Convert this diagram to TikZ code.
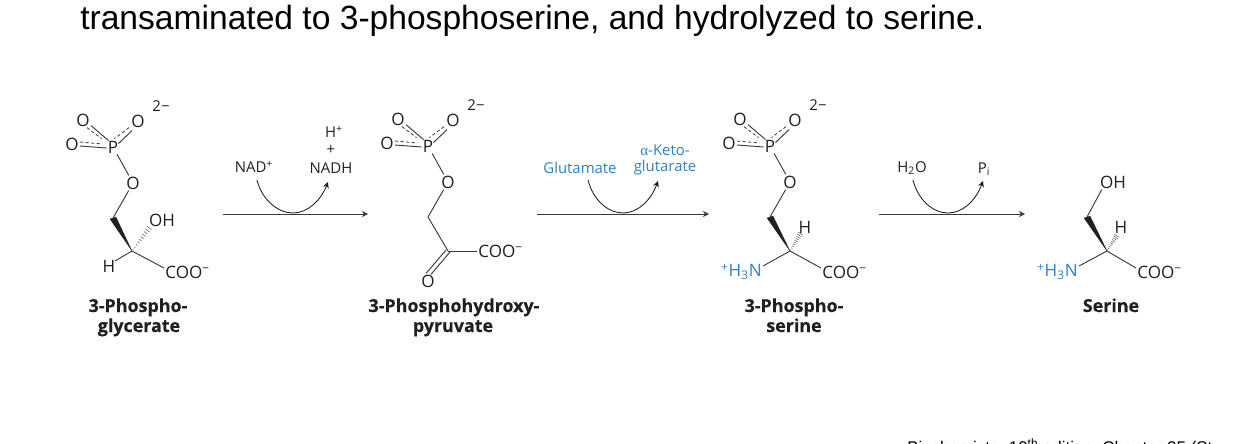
\documentclass[tikz,border=0pt]{standalone}
\usepackage{fontspec}
\setmainfont{Open Sans}[BoldFeatures={FakeBold=0.4}]
\newfontfamily\titlefont{Liberation Sans}
\newfontfamily\greekfont{Liberation Serif}
\usetikzlibrary{calc,arrows.meta}
\definecolor{ink}{HTML}{231F20}
\definecolor{bondc}{HTML}{3A3A3A}
\definecolor{chemblue}{HTML}{2F80C4}
\tikzset{
  atom/.style={inner sep=0.8pt,font=\fontsize{12.8}{13}\selectfont,text=ink},
  sidelabel/.style={inner sep=0.8pt,font=\fontsize{11.2}{12}\selectfont,text=ink},
  bluelabel/.style={sidelabel,text=chemblue},
  blueatom/.style={atom,text=chemblue},
  caption/.style={inner sep=0pt,anchor=base,font=\fontsize{13.4}{14}\bfseries\selectfont,text=ink},
  bond/.style={draw=bondc,line width=0.7pt},
  dbond/.style={draw=bondc,line width=0.6pt,dash pattern=on 2.4pt off 1.8pt},
  wedge/.style={fill=ink,draw=ink,line width=0.2pt,line join=round},
  rxn/.style={draw=bondc,line width=0.7pt,-{Stealth[length=4.5pt,width=4.5pt,inset=1.4pt]}},
  curvearrow/.style={draw=ink,line width=0.65pt,-{Stealth[length=4.5pt,width=4.5pt,inset=1.4pt]}},
}
% phosphate group: centre position, name prefix
\newcommand{\phosphategroup}[2]{%
  \begin{scope}[shift={(#1)}]
    \node[atom] (#2P) at (0,0) {P};
    \node[atom] (#2Ol) at (-41,-3) {O};
    \node[atom] (#2Ot) at (-30,-27) {O};
    \node[atom] (#2Or) at (25,-26) {O};
    \node[atom] (#2Oe) at (20,36) {O};
    \node[sidelabel] (#2ch) at (48,-41) {2−};
    \coordinate (#2c2) at (0,71);
  \end{scope}
  \draw[bond] ($(#2Ol.east)+(0,2)$) -- ($(#2P.west)+(0,1)$);
  \draw[dbond] ($(#2Ol.east)+(0,-2)$) -- ($(#2P.west)+(-4,-3)$);
  \draw[bond] ($(#2Ot.south east)+(0,-2)$) -- ($(#2P.north west)+(2,1)$);
  \draw[dbond] ($(#2Ot.south east)+(-4,0)$) -- ($(#2P.north west)+(-5,-1)$);
  \draw[bond] ($(#2Or.south west)+(2,2)$) -- ($(#2P.north east)+(-1,4)$);
  \draw[dbond] ($(#2Or.south west)+(-1,-1)$) -- ($(#2P.north east)+(-5,-1)$);
  \draw[bond] (#2P) -- (#2Oe);
}
% hashed bond
\newcommand{\hashbond}[2]{%
  \foreach \t/\w in {0.06/0.3,0.16/0.5,0.26/0.7,0.36/0.9,0.46/1.1,0.56/1.3,0.66/1.5,0.76/1.7,0.86/1.9,0.96/2.1}{
    \draw[draw=bondc,line width=0.3pt]
      ($(#1)!\t!(#2)!\w pt!90:(#2)$) -- ($(#1)!\t!(#2)!\w pt!-90:(#2)$);
  }%
}
\begin{document}
\begin{tikzpicture}[x=0.75pt,y=-0.75pt]
\useasboundingbox (0,0) rectangle (1253,443);
\node[anchor=base west,inner sep=0pt,font=\fontsize{25.2}{28}\titlefont\selectfont,text=black] (title) at (80,29)
  {transaminated to 3-phosphoserine, and hydrolyzed to serine.};
\node[anchor=base west,inner sep=0pt,font=\fontsize{12.7}{14}\titlefont\selectfont,text=black] (source) at (907,453)
  {Biochemistry 10\textsuperscript{th} edition, Chapter 25 (St};

% 3-Phosphoglycerate
\phosphategroup{113,147}{a}
\coordinate (aC) at (132,251);
\node[atom] (aOH) at (162,220) {OH};
\node[atom] (aH) at (109,266) {H};
\node[atom,anchor=west] (aCOO) at (164,272) {COO\textsuperscript{−}};
\draw[bond] (aOe) -- (ac2);
\filldraw[wedge] (aC) -- ($(ac2)+(-3,1)$) -- ($(ac2)+(3,-1)$) -- cycle;
\hashbond{aC}{150,227}
\draw[bond] (aC) -- ($(aH)+(6,-5)$);
\draw[bond] (aC) -- ($(aCOO.west)+(0,-4)$);
\node[caption] (aname) at (138,312) {3-Phospho-};
\node[caption] (aname2) at (139,332) {glycerate};

% first reaction
\node[sidelabel] (nad) at (254,167) {NAD\textsuperscript{+}};
\node[sidelabel] (nadh) at (331,168) {NADH};
\node[sidelabel] (plus) at (331,150) {+};
\node[sidelabel] (hplus) at (334,132) {H\textsuperscript{+}};
\coordinate (r1a) at (223,214);
\coordinate (r1b) at (368,214);
\draw[rxn] (r1a) -- (r1b);
\coordinate (r1s) at ($(nad)+(3,13)$);
\coordinate (r1m) at (293,213);
\coordinate (r1e) at ($(nadh)+(-3,14)$);
\draw[curvearrow] (r1s) .. controls (262,200) and (278,213) .. (r1m) .. controls (308,213) and (321,200) .. (r1e);

% 3-Phosphohydroxypyruvate
\phosphategroup{428,146}{b}
\coordinate (bC) at (448,251);
\node[atom,anchor=west] (bCOO) at (477,251) {COO\textsuperscript{−}};
\node[atom] (bO) at (428,281) {O};
\draw[bond] (bOe) -- (bc2);
\draw[bond] (bc2) -- (bC);
\draw[bond] (bC) -- (bCOO);
\draw[bond] ($(bC)+(-2,-1)$) -- ($(bO.north)+(-2,0)$);
\draw[bond] ($(bC)+(2,1)$) -- ($(bO.north)+(3,1)$);
\node[caption] (bname) at (454,312) {3-Phosphohydroxy-};
\node[caption] (bname2) at (453,332) {pyruvate};

% second reaction
\node[bluelabel] (glu) at (580,168) {Glutamate};
\node[bluelabel] (akg) at (665,150) {{\greekfont α}-Keto-};
\node[bluelabel] (akg2) at (665,168) {glutarate};
\coordinate (r2a) at (537,214);
\coordinate (r2b) at (709,214);
\draw[rxn] (r2a) -- (r2b);
\coordinate (r2s) at (588,180);
\coordinate (r2m) at (623,213);
\coordinate (r2e) at (658,181);
\draw[curvearrow] (r2s) .. controls (593,200) and (608,213) .. (r2m) .. controls (638,213) and (651,200) .. (r2e);

% 3-Phosphoserine
\phosphategroup{770,146}{c}
\coordinate (cC) at (790,251);
\node[atom] (cH) at (805,227) {H};
\node[blueatom,anchor=east] (cN) at (763,272) {\textsuperscript{+}H\textsubscript{3}N};
\node[atom,anchor=west] (cCOO) at (821,272) {COO\textsuperscript{−}};
\draw[bond] (cOe) -- (cc2);
\filldraw[wedge] (cC) -- ($(cc2)+(-3,1)$) -- ($(cc2)+(3,-1)$) -- cycle;
\hashbond{cC}{801,233}
\draw[bond] (cC) -- ($(cN.east)+(0,-6)$);
\draw[bond] (cC) -- ($(cCOO.west)+(0,-4)$);
\node[caption] (cname) at (794,312) {3-Phospho-};
\node[caption] (cname2) at (794,332) {serine};

% third reaction
\node[sidelabel] (water) at (912,168) {H\textsubscript{2}O};
\node[sidelabel] (pi) at (984,169) {P\textsubscript{i}};
\coordinate (r3a) at (879,214);
\coordinate (r3b) at (1025,214);
\draw[rxn] (r3a) -- (r3b);
\coordinate (r3s) at (913,180);
\coordinate (r3m) at (948,213);
\coordinate (r3e) at (983,181);
\draw[curvearrow] (r3s) .. controls (918,200) and (933,213) .. (r3m) .. controls (963,213) and (976,200) .. (r3e);

% Serine
\coordinate (dC) at (1107,251);
\coordinate (dc2) at (1087,217);
\node[atom] (dOH) at (1113,182) {OH};
\node[atom] (dH) at (1121,227) {H};
\node[blueatom,anchor=east] (dN) at (1079,272) {\textsuperscript{+}H\textsubscript{3}N};
\node[atom,anchor=west] (dCOO) at (1136,272) {COO\textsuperscript{−}};
\draw[bond] ($(dOH.south west)+(3,0)$) -- (dc2);
\filldraw[wedge] (dC) -- ($(dc2)+(-3,1)$) -- ($(dc2)+(3,-1)$) -- cycle;
\hashbond{dC}{1117,235}
\draw[bond] (dC) -- ($(dN.east)+(0,-6)$);
\draw[bond] (dC) -- ($(dCOO.west)+(0,-4)$);
\node[caption] (dname) at (1111,312) {Serine};
\end{tikzpicture}
\end{document}
